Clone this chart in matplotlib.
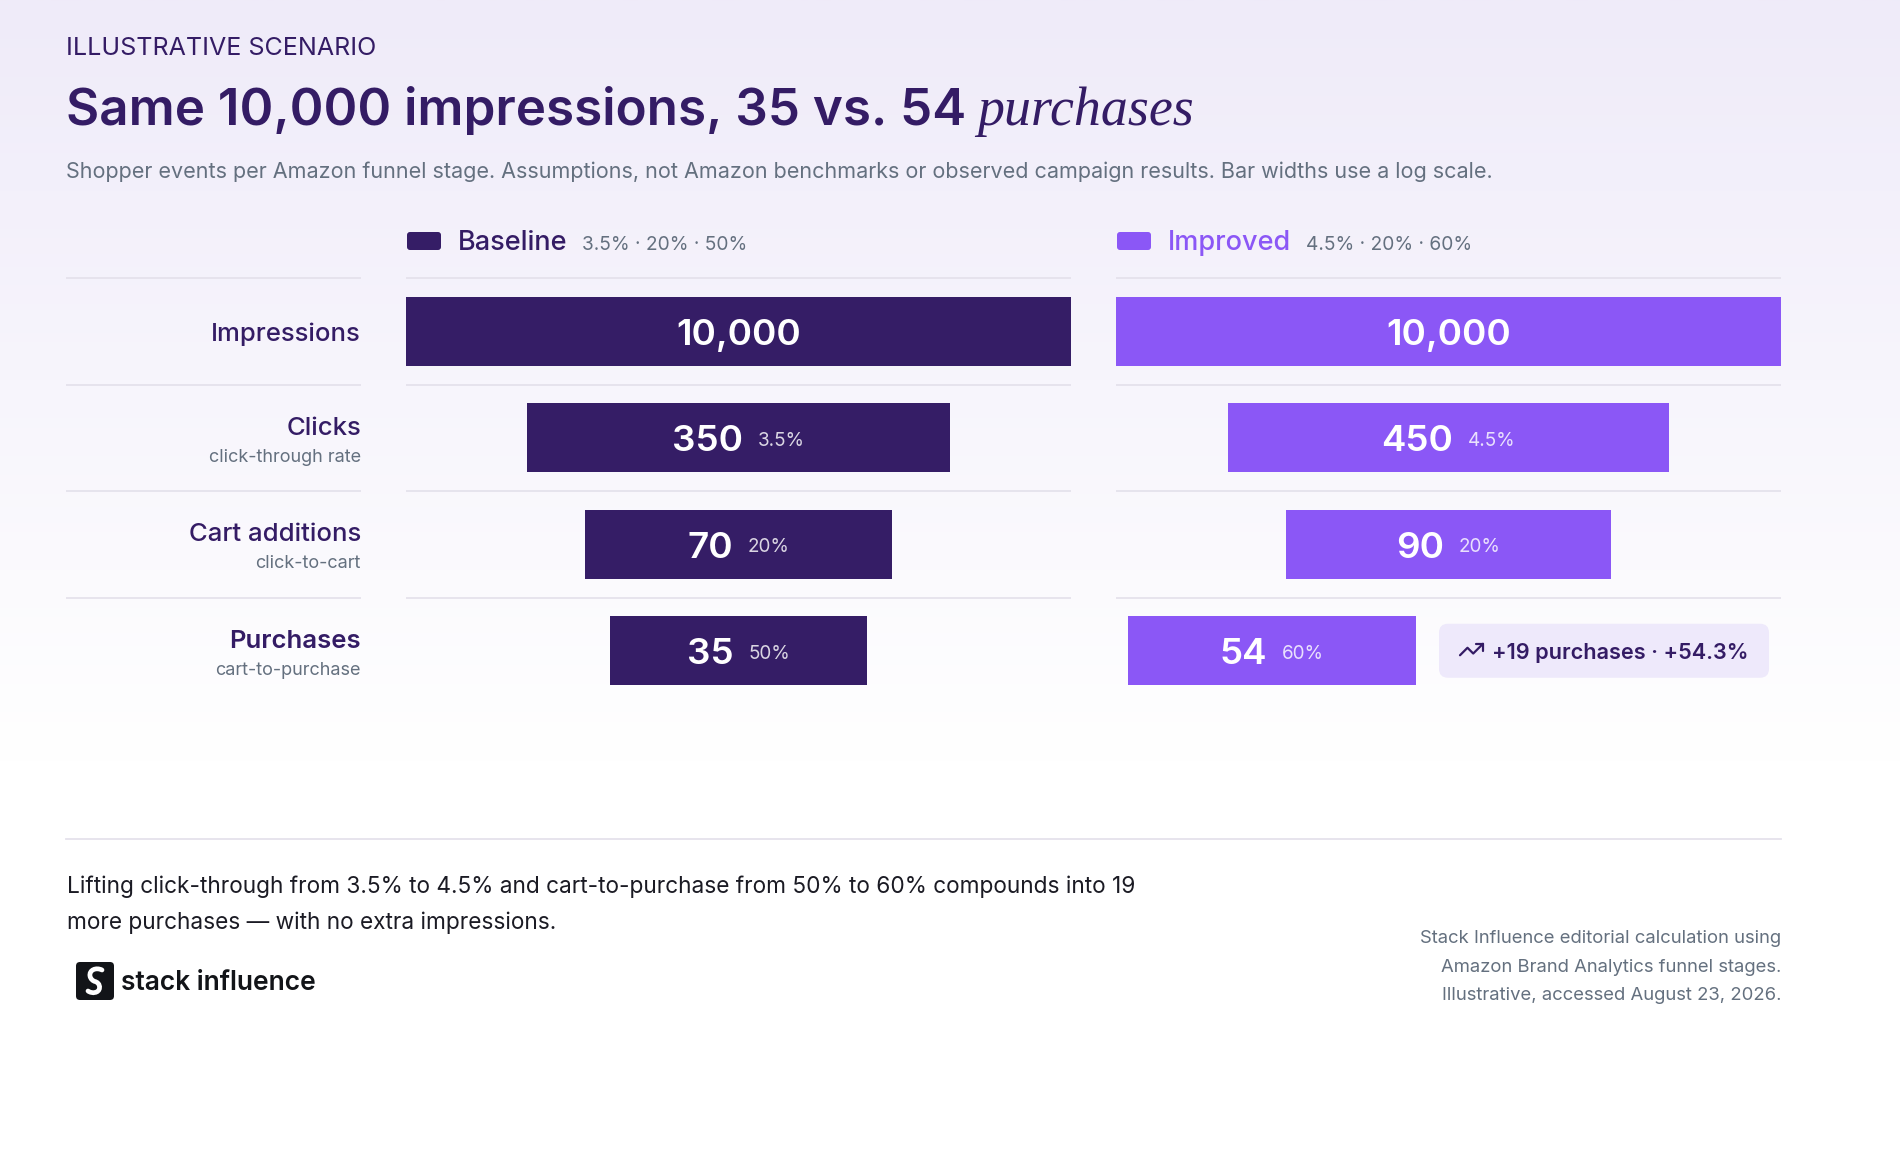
import numpy as np
import matplotlib
matplotlib.use("Agg")
import matplotlib.pyplot as plt
from matplotlib.patches import FancyBboxPatch
from matplotlib.path import Path
from matplotlib.patches import PathPatch
import matplotlib.colors as mcolors

# ---------------- data ----------------
stages = ["Impressions", "Clicks", "Cart additions", "Purchases"]
stage_notes = ["", "click-through rate", "click-to-cart", "cart-to-purchase"]
baseline_values = [10000, 350, 70, 35]
improved_values = [10000, 450, 90, 54]
baseline_rates = ["", "3.5%", "20%", "50%"]
improved_rates = ["", "4.5%", "20%", "60%"]
baseline_rates_label = "3.5% · 20% · 50%"
improved_rates_label = "4.5% · 20% · 60%"
lift_label = "+19 purchases · +54.3%"

eyebrow = "ILLUSTRATIVE SCENARIO"
title_main = "Same 10,000 impressions, 35 vs. 54"
title_em = "purchases"
subtitle = ("Shopper events per Amazon funnel stage. Assumptions, not Amazon benchmarks "
            "or observed campaign results. Bar widths use a log scale.")
footer_lines = ["Lifting click-through from 3.5% to 4.5% and cart-to-purchase from 50% to 60% compounds into 19",
                "more purchases \u2014 with no extra impressions."]
source_lines = ["Stack Influence editorial calculation using",
                "Amazon Brand Analytics funnel stages.",
                "Illustrative, accessed August 23, 2026."]
brand = "stack influence"

# ---------------- style ----------------
DARK = "#341c65"
BASE_C = "#351d66"
IMPR_C = "#8b57f6"
GRAY = "#64707f"
SEP = "#e5e2ec"
BADGE = "#eee9fb"
FAM = "Inter"

W, H = 1900, 1154
fig = plt.figure(figsize=(W / 100, H / 100), dpi=100)

# background gradient
bg = fig.add_axes([0, 0, 1, 1], zorder=0)
bg.set_xlim(0, W); bg.set_ylim(H, 0); bg.axis("off")
ys = np.linspace(0, H, 600)
top = np.array(mcolors.to_rgb("#efebf9"))
t = np.clip(ys / 760.0, 0, 1)[:, None]
grad = top * (1 - t) + np.ones(3) * t
bg.imshow(grad[:, None, :], extent=[0, W, H, 0], aspect="auto", interpolation="bilinear")

# overlay for text and decorations
ov = fig.add_axes([0, 0, 1, 1], zorder=5)
ov.set_xlim(0, W); ov.set_ylim(H, 0); ov.axis("off"); ov.patch.set_alpha(0)
R = fig.canvas.get_renderer()


def tw(s, **kw):
    tt = ov.text(0, 0, s, **kw)
    w = tt.get_window_extent(renderer=R).width
    tt.remove()
    return w


# ---------------- header ----------------
ov.text(66, 55, eyebrow, family=FAM, fontsize=18, color=DARK, va="baseline")
tm = ov.text(66, 125, title_main, family=FAM, fontsize=36.8, fontweight=600, color=DARK, va="baseline")
w_main = tm.get_window_extent(renderer=R).width
ov.text(66 + w_main + 11, 125, title_em, family="Liberation Serif", style="italic",
        fontsize=38.8, color=DARK, va="baseline")
ov.text(66, 178, subtitle, family=FAM, fontsize=15.5, color=GRAY, va="baseline")

# ---------------- layout ----------------
ROW0, PITCH = 278.0, 106.5
NROW = len(stages)
PANEL_L = [406, 1116]
PANEL_W = 665
BAR_H = 69 / PITCH
LMAX = np.log10(max(baseline_values))

# legend
for px, name, col, rates in [(PANEL_L[0], "Baseline", DARK, baseline_rates_label),
                             (PANEL_L[1], "Improved", IMPR_C, improved_rates_label)]:
    sq = BASE_C if name == "Baseline" else IMPR_C
    ov.add_patch(FancyBboxPatch((px + 1, 232), 34, 18, boxstyle="round,pad=0,rounding_size=3",
                                fc=sq, ec="none"))
    ov.text(px + 52, 250, name, family=FAM, fontsize=19.5, fontweight=500, color=col, va="baseline")
    wn = tw(name, family=FAM, fontsize=19.5, fontweight=500)
    ov.text(px + 52 + wn + 15, 250, rates, family=FAM, fontsize=13.8, color=GRAY, va="baseline")

# separators
for i in range(NROW):
    y = ROW0 + i * PITCH
    ov.plot([66, 361], [y, y], color=SEP, lw=1.3, solid_capstyle="butt")
    for px in PANEL_L:
        ov.plot([px, px + PANEL_W], [y, y], color=SEP, lw=1.3, solid_capstyle="butt")

# row labels
for i, (st, note) in enumerate(zip(stages, stage_notes)):
    yc = ROW0 + (i + 0.5) * PITCH
    wt = 600 if i == NROW - 1 else 500
    if note:
        ov.text(361, yc - 3, st, family=FAM, fontsize=18.5, fontweight=wt, color=DARK,
                ha="right", va="baseline")
        ov.text(361, yc + 24, note, family=FAM, fontsize=13, color=GRAY, ha="right", va="baseline")
    else:
        ov.text(361, yc + 9.5, st, family=FAM, fontsize=18.5, fontweight=wt, color=DARK,
                ha="right", va="baseline")

# ---------------- bars ----------------
BADGE_W, BADGE_GAP = 330, 23
axes = []
for k, (vals, rates, col) in enumerate([(baseline_values, baseline_rates, BASE_C),
                                        (improved_values, improved_rates, IMPR_C)]):
    ax = fig.add_axes([PANEL_L[k] / W, 1 - (ROW0 + NROW * PITCH) / H,
                       PANEL_W / W, NROW * PITCH / H], zorder=2)
    ax.set_xlim(0, LMAX)
    ax.set_ylim(NROW - 0.5, -0.5)
    ax.axis("off")
    ax.patch.set_alpha(0)
    L = np.log10(np.array(vals, dtype=float))
    lefts = (LMAX - L) / 2
    if k == 1:
        px_per_unit = PANEL_W / LMAX
        extra = (BADGE_W + BADGE_GAP) / px_per_unit
        lefts[-1] = (LMAX - (L[-1] + extra)) / 2
    ax.barh(np.arange(NROW), L, left=lefts, height=BAR_H, color=col, edgecolor="none")
    axes.append((ax, L, lefts, vals, rates))

NUM_FS, PCT_FS, GAP = 26.5, 13.6, 15
for ax, L, lefts, vals, rates in axes:
    for i in range(NROW):
        cx_data = lefts[i] + L[i] / 2
        cx, cy = ov.transData.inverted().transform(ax.transData.transform((cx_data, i)))
        num = f"{vals[i]:,}"
        base_y = cy + 13.5
        if rates[i]:
            wn = tw(num, family=FAM, fontsize=NUM_FS, fontweight=600)
            wp = tw(rates[i], family=FAM, fontsize=PCT_FS)
            x0 = cx - (wn + GAP + wp) / 2
            ov.text(x0, base_y, num, family=FAM, fontsize=NUM_FS, fontweight=600, color="white",
                    va="baseline", ha="left")
            ov.text(x0 + wn + GAP, base_y - 5.5, rates[i], family=FAM, fontsize=PCT_FS, color="white",
                    alpha=0.82, va="baseline", ha="left")
        else:
            ov.text(cx, base_y, num, family=FAM, fontsize=NUM_FS, fontweight=600, color="white",
                    va="baseline", ha="center")

# badge next to improved purchases bar
ax, L, lefts, vals, rates = axes[1]
i = NROW - 1
rx, cy = ov.transData.inverted().transform(ax.transData.transform((lefts[i] + L[i], i)))
bx = rx + BADGE_GAP
ov.add_patch(FancyBboxPatch((bx, cy - 27), BADGE_W, 54, boxstyle="round,pad=0,rounding_size=9",
                            fc=BADGE, ec="none"))
# trending-up icon
s = 1.15
ix, iy = bx + 21, cy - 7
def ip(u, v):
    return ix + (u - 2) * s, iy + (v - 7) * s
p1 = [ip(22, 7), ip(13.5, 15.5), ip(8.5, 10.5), ip(2, 17)]
p2 = [ip(16, 7), ip(22, 7), ip(22, 13)]
for pts in (p1, p2):
    xs, yv = zip(*pts)
    ov.plot(xs, yv, color=DARK, lw=1.6, solid_capstyle="round", solid_joinstyle="round")
ov.text(bx + 53, cy + 8, lift_label, family=FAM, fontsize=15.6, fontweight=600, color=DARK,
        va="baseline")

# ---------------- footer ----------------
ov.plot([66, 1781], [838.5, 838.5], color=SEP, lw=1.3)
ov.text(67, 893, footer_lines[0], family=FAM, fontsize=16.3, color="#1b1b24", va="baseline")
ov.text(67, 929, footer_lines[1], family=FAM, fontsize=16.3, color="#1b1b24", va="baseline")

# logo mark
ov.add_patch(FancyBboxPatch((76, 962), 38, 38, boxstyle="round,pad=0,rounding_size=4",
                            fc="#121418", ec="none"))
verts = [(102, 970), (96, 967), (89, 970), (90, 976), (90.5, 979), (93, 981), (95, 981.5),
         (97, 982), (100, 984), (99.5, 988), (99, 993), (92, 994), (88, 991)]
codes = [Path.MOVETO] + [Path.CURVE4] * 12
ov.add_patch(PathPatch(Path(verts, codes), fc="none", ec="white", lw=3.4, capstyle="round"))
ov.text(121, 990, brand, family=FAM, fontsize=19, fontweight=600, color="#121418", va="baseline")

for j, ln in enumerate(source_lines):
    ov.text(1781, 943 + j * 28.5, ln, family=FAM, fontsize=13.3, color=GRAY, ha="right",
            va="baseline")

fig.savefig("out.png", dpi=100)
